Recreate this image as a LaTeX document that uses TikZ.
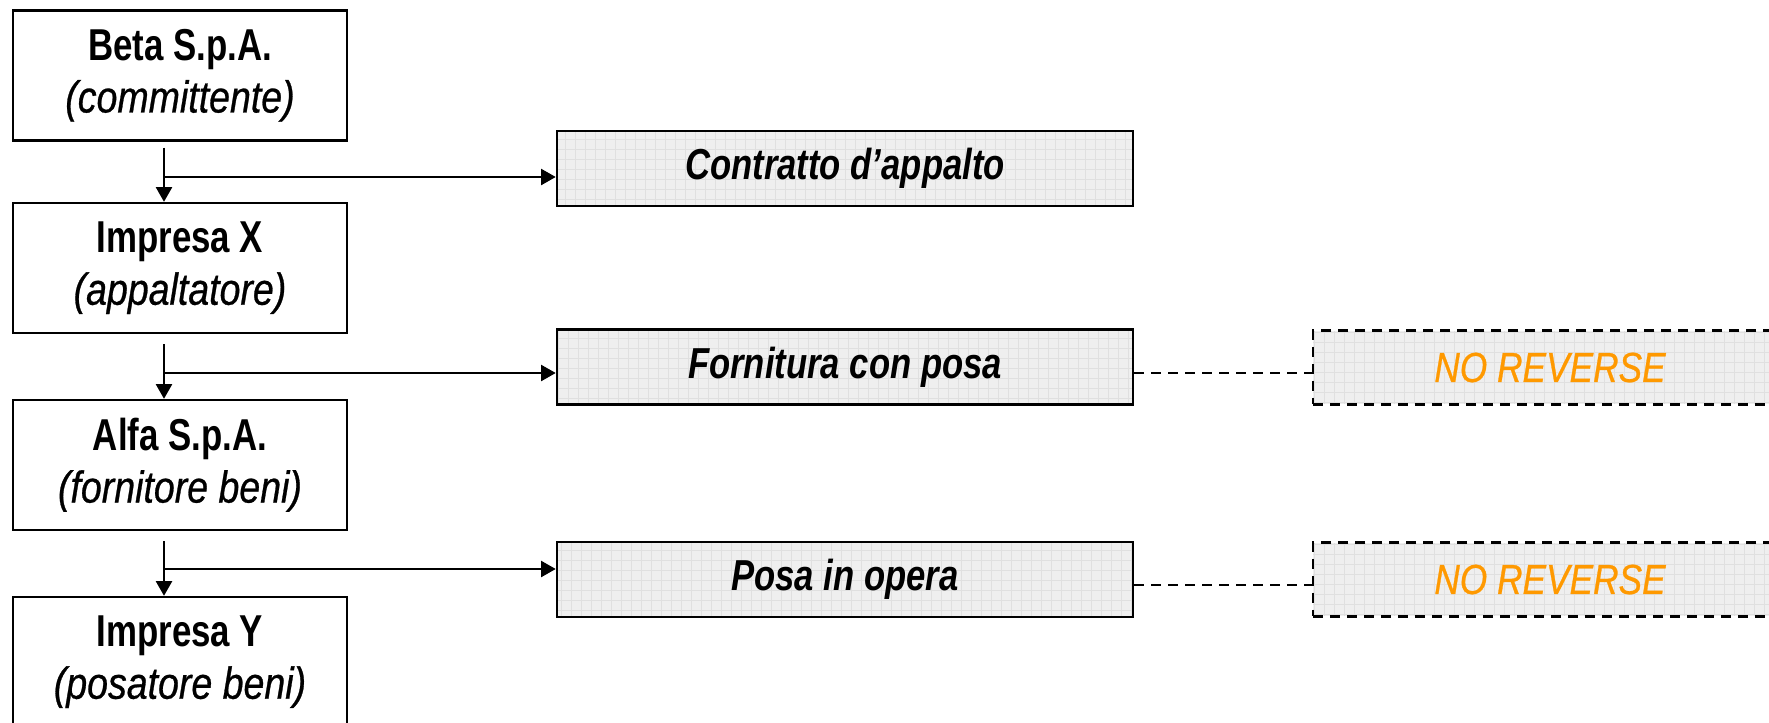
\documentclass[tikz,border=0pt]{standalone}
\usepackage{fontspec}
\setmainfont{Liberation Sans}[UprightFeatures={FakeStretch=0.82}, BoldFeatures={FakeStretch=0.78}, ItalicFeatures={FakeStretch=0.84, FakeBold=0.6}, BoldItalicFeatures={FakeStretch=0.80}]
\usetikzlibrary{arrows.meta}
\definecolor{boxfill}{HTML}{EFEFEF}
\definecolor{gridcol}{HTML}{E0E0E0}
\definecolor{nrorange}{HTML}{FF9900}
\begin{document}
\begin{tikzpicture}[x=0.75pt,y=-0.75pt,
  party/.style={draw, line width=1.8pt, minimum width=250.5pt, minimum height=97.5pt,
    align=center, inner sep=0pt, font=\fontsize{33.5}{39}\selectfont},
  gridded/.style={fill=boxfill, inner sep=0pt,
    path picture={\draw[gridcol, solid, line width=0.45pt, step=7.5pt]
      (path picture bounding box.south west) grid (path picture bounding box.north east);}},
  act/.style={gridded, draw, line width=1.9pt, minimum width=432pt, minimum height=56.25pt,
    font=\fontsize{32.5}{38}\selectfont\bfseries\itshape},
  nr/.style={gridded, draw, line width=2.2pt, dash pattern=on 7.5pt off 5.25pt,
    minimum width=355.5pt, minimum height=55pt,
    font=\fontsize{31.5}{37}\selectfont\itshape, text=nrorange},
  conn/.style={line width=1.7pt, -{Triangle[length=11pt,width=12pt]}},
  dconn/.style={line width=1.9pt, dash pattern=on 7.5pt off 5.25pt},
]
\clip (0,0) rectangle (1769,722);
\fill[white] (0,0) rectangle (1769,722);

\node[party] (beta) at (180,75.5) {\textbf{Beta S.p.A.}\\\textit{(committente)}};
\node[party] (impx) at (180,268) {\textbf{Impresa X}\\\textit{(appaltatore)}};
\node[party] (alfa) at (180,465) {\textbf{Alfa S.p.A.}\\\textit{(fornitore beni)}};
\node[party] (impy) at (180,662) {\textbf{Impresa Y}\\\textit{(posatore beni)}};

\node[act] (contratto) at (845,168.5) {Contratto d’appalto};
\node[act] (fornitura) at (845,367) {Fornitura con posa};
\node[act] (posa) at (845,579.5) {Posa in opera};

\node[nr] (nr1) at (1550,367.5) {NO REVERSE};
\node[nr] (nr2) at (1550,579.5) {NO REVERSE};

\coordinate (j1) at (164,177);
\coordinate (j2) at (164,373);
\coordinate (j3) at (164,569);

\draw[conn] ([yshift=-4.5pt]beta.south -| j1) -- (j1 |- impx.north);
\draw[conn] (j1) -- (j1 -| contratto.west);
\draw[conn] ([yshift=-7.5pt]impx.south -| j2) -- (j2 |- alfa.north);
\draw[conn] (j2) -- (j2 -| fornitura.west);
\draw[conn] ([yshift=-7.5pt]alfa.south -| j3) -- (j3 |- impy.north);
\draw[conn] (j3) -- (j3 -| posa.west);

\coordinate (d1) at (1220,373);
\coordinate (d2) at (1220,585);
\draw[dconn] (d1 -| fornitura.east) -- (d1 -| nr1.west);
\draw[dconn] (d2 -| posa.east) -- (d2 -| nr2.west);
\end{tikzpicture}
\end{document}
